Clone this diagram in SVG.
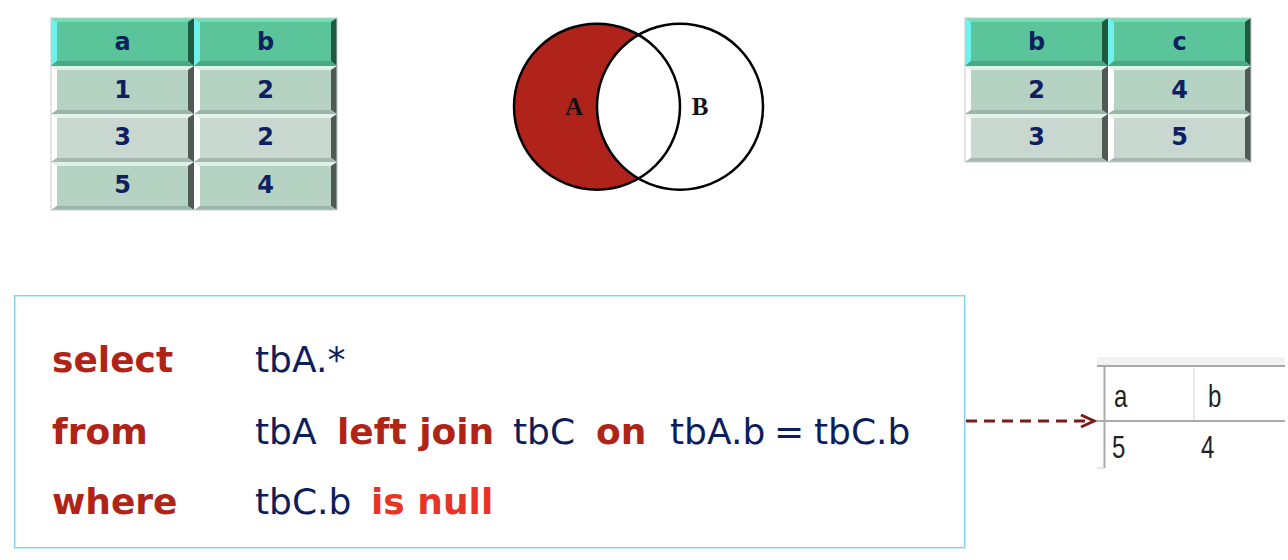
<svg xmlns="http://www.w3.org/2000/svg" xmlns:xlink="http://www.w3.org/1999/xlink" width="1288" height="560" viewBox="0 0 1288 560">
<style>
.cellTxt{font-family:"DejaVu Sans",Verdana,sans-serif;font-weight:bold;font-size:24px;fill:#0f2060;text-anchor:middle}
.kw{font-family:"DejaVu Sans",Tahoma,sans-serif;font-weight:bold;font-size:36px;fill:#b02418}
.kw2{font-family:"DejaVu Sans",Tahoma,sans-serif;font-weight:bold;font-size:36px;fill:#e83426}
.id{font-family:"DejaVu Sans",Tahoma,sans-serif;font-size:36px;fill:#0e1e5b}
.venn{font-family:"Liberation Serif","Times New Roman",serif;font-weight:bold;font-size:25px;fill:#111}
.res{font-family:"Liberation Sans",Arial,sans-serif;font-size:32px;fill:#222}
.conn{stroke:#7a1a1a;stroke-width:3;stroke-dasharray:11 7;fill:none}
</style>
<defs>
<g id="hcell">
<rect x="0" y="0" width="143" height="48" fill="#5bc49a"/>
<polygon points="0,0 143,0 137,4 6,4" fill="#6be0b4"/>
<polygon points="0,0 6,4 6,43 0,48" fill="#6ef2ee"/>
<polygon points="143,0 143,48 137,43 137,4" fill="#1f5a3f"/>
<polygon points="0,48 6,43 137,43 143,48" fill="#4aa882"/>
</g>
<g id="bcell">
<rect x="0" y="0" width="143" height="48" fill="#b5d2c3"/>
<polygon points="0,0 143,0 137,4 6,4" fill="#dcf2e8"/>
<polygon points="0,0 6,4 6,44 0,48" fill="#ffffff"/>
<polygon points="143,0 143,48 137,44 137,4" fill="#4f5a55"/>
<polygon points="0,48 6,44 137,44 143,48" fill="#9db5a8"/>
</g>
<g id="bcell2">
<rect x="0" y="0" width="143" height="48" fill="#c8d7cf"/>
<polygon points="0,0 143,0 137,4 6,4" fill="#e6f2ec"/>
<polygon points="0,0 6,4 6,44 0,48" fill="#ffffff"/>
<polygon points="143,0 143,48 137,44 137,4" fill="#4f5a55"/>
<polygon points="0,48 6,44 137,44 143,48" fill="#a5b9ae"/>
</g>
<marker id="chev" markerUnits="userSpaceOnUse" markerWidth="20" markerHeight="20" refX="14" refY="7" orient="auto" viewBox="0 0 20 20">
<path d="M1,1 L14,7 L1,13" fill="none" stroke="#7a1a1a" stroke-width="3"/>
</marker>
</defs>

<g id="tableA">
<use xlink:href="#hcell" x="51" y="18"/>
<use xlink:href="#hcell" x="194" y="18"/>
<use xlink:href="#bcell" x="51" y="66"/>
<use xlink:href="#bcell" x="194" y="66"/>
<use xlink:href="#bcell2" x="51" y="114"/>
<use xlink:href="#bcell2" x="194" y="114"/>
<use xlink:href="#bcell" x="51" y="162"/>
<use xlink:href="#bcell" x="194" y="162"/>
<rect x="51" y="18" width="286" height="192" fill="none" stroke="#c6ccc9" stroke-width="1"/>
<text class="cellTxt" x="122.5" y="50">a</text>
<text class="cellTxt" x="265.5" y="50">b</text>
<text class="cellTxt" x="122.5" y="98">1</text>
<text class="cellTxt" x="265.5" y="98">2</text>
<text class="cellTxt" x="122.5" y="145">3</text>
<text class="cellTxt" x="265.5" y="145">2</text>
<text class="cellTxt" x="122.5" y="193">5</text>
<text class="cellTxt" x="265.5" y="193">4</text>
</g>

<g id="venn">
<circle cx="597" cy="106.7" r="83" fill="#ffffff" stroke="none"/>
<path d="M638.5,34.8 A83,83 0 1 0 638.5,178.6 A83,83 0 0 1 638.5,34.8 Z" fill="#b0231a"/>
<circle cx="597" cy="106.7" r="83" fill="none" stroke="#000" stroke-width="2.5"/>
<circle cx="680" cy="106.7" r="83" fill="none" stroke="#000" stroke-width="2.5"/>
<text class="venn" x="574" y="115" text-anchor="middle">A</text>
<text class="venn" x="700" y="115" text-anchor="middle">B</text>
</g>

<g id="tableC">
<use xlink:href="#hcell" x="965" y="18"/>
<use xlink:href="#hcell" x="1108" y="18"/>
<use xlink:href="#bcell" x="965" y="66"/>
<use xlink:href="#bcell" x="1108" y="66"/>
<use xlink:href="#bcell2" x="965" y="114"/>
<use xlink:href="#bcell2" x="1108" y="114"/>
<rect x="965" y="18" width="286" height="144" fill="none" stroke="#c6ccc9" stroke-width="1"/>
<text class="cellTxt" x="1036.5" y="50">b</text>
<text class="cellTxt" x="1179.5" y="50">c</text>
<text class="cellTxt" x="1036.5" y="98">2</text>
<text class="cellTxt" x="1179.5" y="98">4</text>
<text class="cellTxt" x="1036.5" y="145">3</text>
<text class="cellTxt" x="1179.5" y="145">5</text>
</g>

<g id="sqlBox">
<rect x="14.7" y="295.7" width="950" height="252" fill="#ffffff" stroke="#86d0f2" stroke-width="1.5"/>
<text class="kw" x="52" y="372">select</text>
<text class="id" x="255" y="372">tbA.*</text>
<text class="kw" x="52" y="443.5">from</text>
<text class="id" x="255" y="443.5">tbA</text>
<text class="kw" x="337" y="443.5">left join</text>
<text class="id" x="513" y="443.5">tbC</text>
<text class="kw" x="596" y="443.5">on</text>
<text class="id" x="670" y="443.5">tbA.b</text>
<text class="id" x="774" y="443.5">=</text>
<text class="id" x="814" y="443.5">tbC.b</text>
<text class="kw" x="52" y="513.5">where</text>
<text class="id" x="255" y="513.5">tbC.b</text>
<text class="kw2" x="371" y="513.5">is null</text>
</g>

<g id="resultTable">
<rect x="1097" y="357" width="188" height="9" fill="#f2f2f2"/>
<line x1="1097" y1="366" x2="1285" y2="366" stroke="#a9a9a9" stroke-width="2"/>
<line x1="1104.5" y1="366" x2="1104.5" y2="468" stroke="#a9a9a9" stroke-width="2"/>
<line x1="1194" y1="368" x2="1194" y2="420" stroke="#e2e2e2" stroke-width="1.5"/>
<line x1="1097" y1="421" x2="1285" y2="421" stroke="#a9a9a9" stroke-width="2"/>
<line x1="1097" y1="468" x2="1104" y2="468" stroke="#cfcfcf" stroke-width="1"/>
<text class="res" transform="translate(1114,406.5) scale(0.75,1)">a</text>
<text class="res" transform="translate(1208,406.5) scale(0.75,1)">b</text>
<text class="res" transform="translate(1112,458) scale(0.75,1)">5</text>
<text class="res" transform="translate(1201,458) scale(0.75,1)">4</text>
</g>

<g id="connectors">
<line class="conn" x1="966" y1="421" x2="1094" y2="421" marker-end="url(#chev)"/>
</g>
</svg>
